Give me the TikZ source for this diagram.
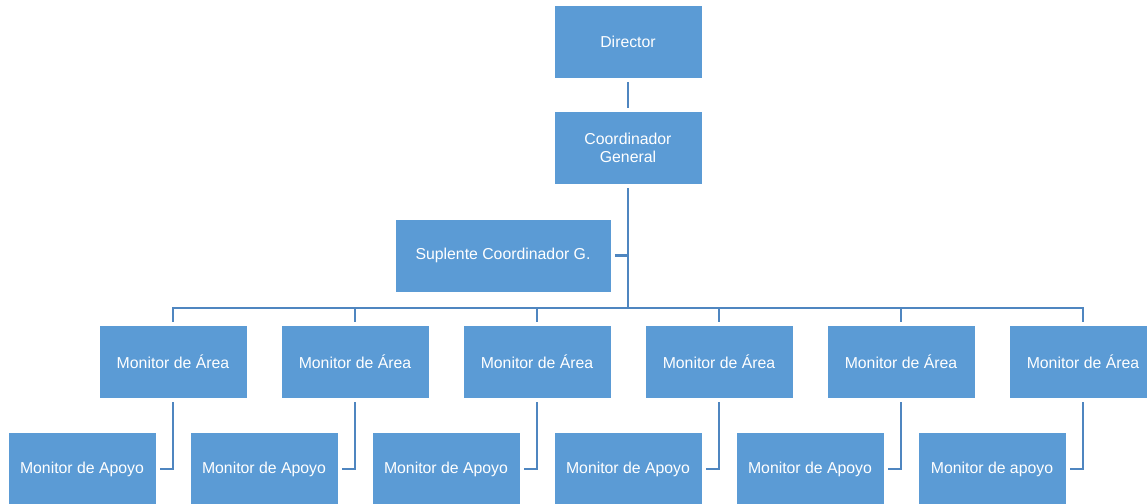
\documentclass[tikz,border=0pt]{standalone}
\usepackage{fontspec}
\setmainfont{Liberation Sans}
\usetikzlibrary{positioning}
\definecolor{boxblue}{HTML}{5B9BD5}
\definecolor{lineblue}{HTML}{4F86C0}
\tikzstyle{cargo} = [rectangle, fill=boxblue, draw=white, line width=0.5pt, text=white, font=\fontsize{9}{10}\selectfont, align=center, minimum width=2.96cm, minimum height=1.46cm, inner sep=1pt]
\tikzstyle{enlace} = [draw=lineblue, line width=1.5pt]
\begin{document}
\begin{tikzpicture}[x=0.02cm,y=-0.02cm]
        \useasboundingbox (0,0) rectangle (1147,504);
        \node[cargo] (dir) at (628,41.5) {Director};
        \node[cargo] (coord) at (628,148) {Coordinador\\General};
        \node[cargo, minimum width=4.32cm] (supl) at (503,255.5) {Suplente Coordinador G.};
        \coordinate (bus) at (628,308);

        \draw[enlace, shorten <=2pt, shorten >=2pt] (dir.south) -- (coord.north);
        \draw[enlace, shorten <=2pt] (coord.south) -- (bus);
        \draw[enlace, shorten <=2pt] (supl.east) -- (supl.east -| bus);

        \foreach \i/\ap in {1/Apoyo,2/Apoyo,3/Apoyo,4/Apoyo,5/Apoyo,6/apoyo} {
            \node[cargo] (area\i) at (173+182*\i-182,362) {Monitor de Área};
            \node[cargo] (apoyo\i) at (82+182*\i-182,469) {Monitor de \ap};
            \draw[enlace, shorten >=2pt] (bus) -| (area\i.north);
            \draw[enlace, shorten <=2pt, shorten >=2pt] (area\i.south) |- (apoyo\i.east);
        }
    \end{tikzpicture}
\end{document}
